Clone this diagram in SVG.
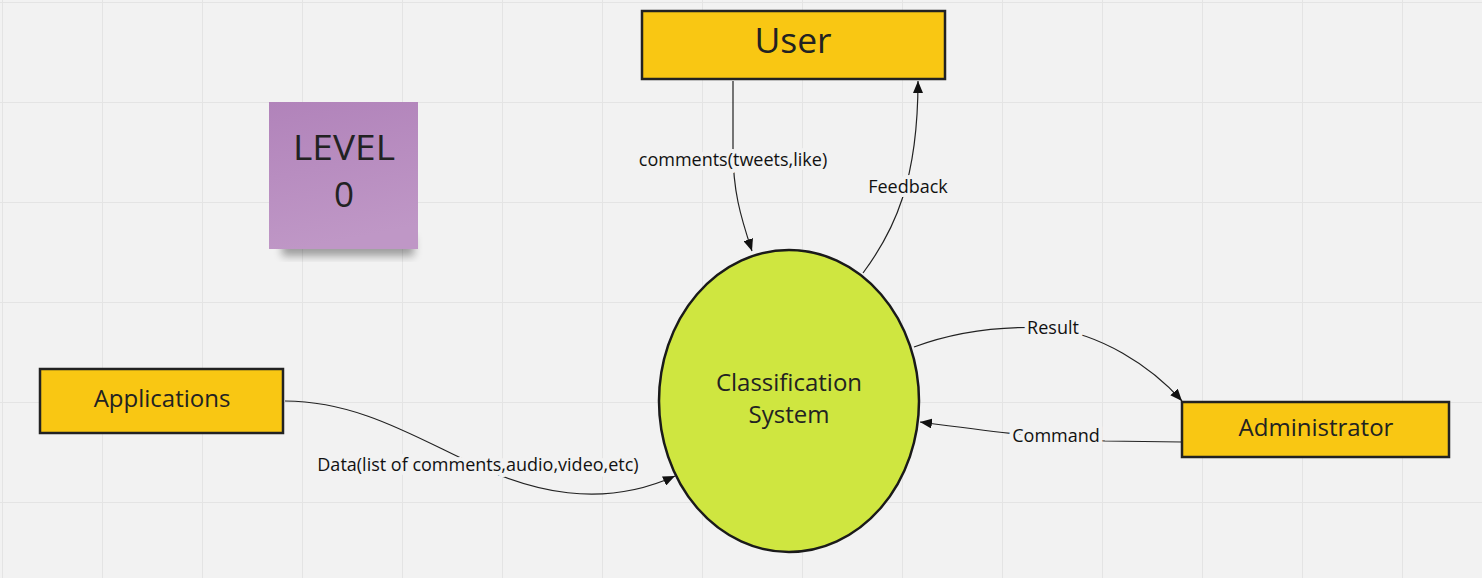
<svg xmlns="http://www.w3.org/2000/svg" width="1482" height="578" viewBox="0 0 1482 578">
<defs>
<pattern id="grid" x="2" y="2" width="100" height="100" patternUnits="userSpaceOnUse">
<path d="M0,0 H100 M0,0 V100" fill="none" stroke="#e4e4e4" stroke-width="2"/>
</pattern>
<linearGradient id="sticky" x1="0" y1="0" x2="0.2" y2="1">
<stop offset="0" stop-color="#b183ba"/>
<stop offset="1" stop-color="#bf97c6"/>
</linearGradient>
<filter id="shadow" x="-20%" y="-20%" width="140%" height="150%">
<feGaussianBlur stdDeviation="4"/>
</filter>
<marker id="arr" viewBox="0 0 12 10" refX="12" refY="5" markerWidth="12" markerHeight="10" markerUnits="userSpaceOnUse" orient="auto">
<path d="M0,0 L12,5 L0,10 z" fill="#111"/>
</marker>
<style>
.box{fill:#f9c713;stroke:#222;stroke-width:2.5}
.lbl{font-family:"Open Sans","Noto Sans","DejaVu Sans",sans-serif;fill:#222;text-anchor:middle}
.edge{fill:none;stroke:#222;stroke-width:1.2}
.elbl{font-family:"Open Sans","Noto Sans","DejaVu Sans",sans-serif;font-size:18px;fill:#111;text-anchor:middle;stroke:#f2f2f2;stroke-width:8;paint-order:stroke;stroke-linejoin:round}
</style>
</defs>
<rect width="1482" height="578" fill="#f2f2f2"/>
<rect width="1482" height="578" fill="url(#grid)"/>

<g id="sticky-note">
<rect x="282" y="236" width="132" height="20" fill="#000" opacity="0.35" filter="url(#shadow)"/>
<rect x="269" y="102" width="149" height="147" fill="url(#sticky)"/>
<text class="lbl" x="344" y="160" font-size="35" fill="#333" textLength="102" lengthAdjust="spacingAndGlyphs">LEVEL</text>
<text class="lbl" x="344" y="207" font-size="35" fill="#333">0</text>
</g>

<g id="connectors">
<path class="edge" d="M733,81 V150 C733,190 740,215 752,251" marker-end="url(#arr)"/>
<path class="edge" d="M863,273 C895,230 918,180 918,81" marker-end="url(#arr)"/>
<path class="edge" d="M914,347 C960,330 1010,326 1050,328 C1100,334 1150,365 1182,401" marker-end="url(#arr)"/>
<path class="edge" d="M1182,442 L1105,441 C1040,438 980,430 920,422" marker-end="url(#arr)"/>
<path class="edge" d="M285,401 C360,401 420,440 478,466 C530,490 600,510 675,476" marker-end="url(#arr)"/>
<text class="elbl" x="733" y="166">comments(tweets,like)</text>
<text class="elbl" x="908" y="193">Feedback</text>
<text class="elbl" x="1053" y="334">Result</text>
<text class="elbl" x="1056" y="442">Command</text>
<text class="elbl" x="478" y="471">Data(list of comments,audio,video,etc)</text>
</g>

<g id="user">
<rect class="box" x="642" y="11" width="303" height="68"/>
<text class="lbl" x="793" y="53" font-size="35.5">User</text>
</g>

<g id="applications">
<rect class="box" x="40" y="369" width="243" height="64"/>
<text class="lbl" x="162" y="407" font-size="24">Applications</text>
</g>

<g id="administrator">
<rect class="box" x="1182" y="402" width="267" height="55"/>
<text class="lbl" x="1316" y="436" font-size="24">Administrator</text>
</g>

<g id="classification-system">
<ellipse cx="789" cy="401" rx="130" ry="151" fill="#cfe640" stroke="#1a1a1a" stroke-width="2.5"/>
<text class="lbl" x="789" y="391" font-size="24">Classification</text>
<text class="lbl" x="789" y="423" font-size="24">System</text>
</g>
</svg>
